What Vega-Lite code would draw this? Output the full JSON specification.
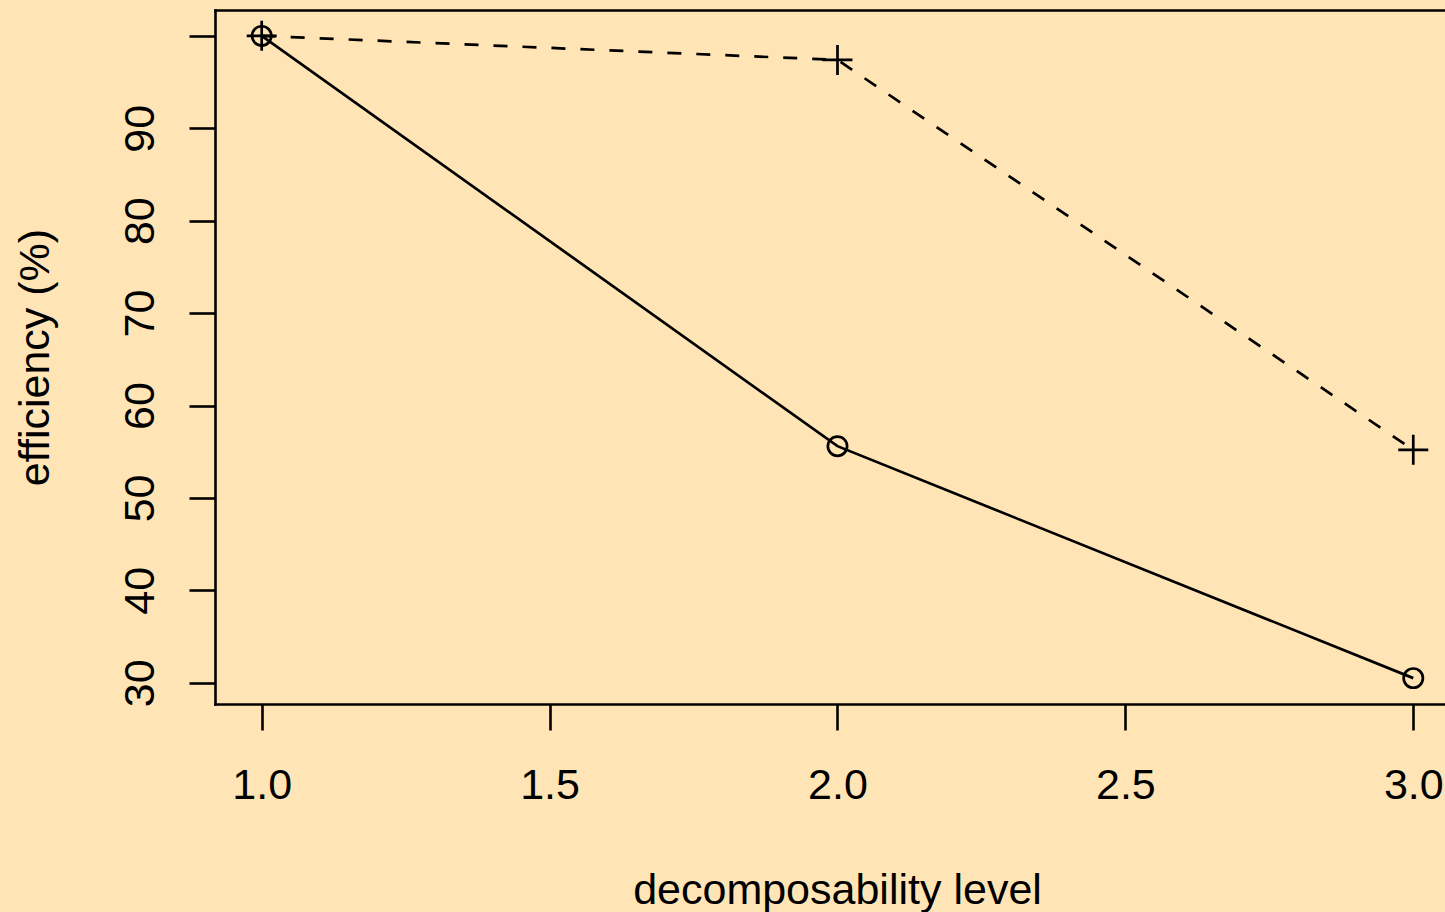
{
  "$schema": "https://vega.github.io/schema/vega-lite/v6.json",
  "autosize": {"type": "none"},
  "padding": {"left": 215, "top": 10, "right": 0, "bottom": 208},
  "width": 1230,
  "height": 694,
  "background": "#FFE4B5",
  "config": {
    "view": {"stroke": null},
    "font": "Liberation Sans",
    "axis": {
      "grid": false,
      "domainColor": "black",
      "domainWidth": 2.6,
      "domainCap": "square",
      "tickColor": "black",
      "tickWidth": 2.6,
      "tickSize": 26,
      "labelColor": "black",
      "labelFont": "Liberation Sans",
      "labelFontSize": 43,
      "titleFont": "Liberation Sans",
      "titleFontSize": 43,
      "titleFontWeight": "normal",
      "titleColor": "black",
      "labelFlush": false,
      "labelOverlap": false
    }
  },
  "data": {
    "values": [
      {"level": 1, "efficiency": 100, "series": "A"},
      {"level": 2, "efficiency": 55.6, "series": "A"},
      {"level": 3, "efficiency": 30.5, "series": "A"},
      {"level": 1, "efficiency": 100, "series": "B"},
      {"level": 2, "efficiency": 97.4, "series": "B"},
      {"level": 3, "efficiency": 55.2, "series": "B"}
    ]
  },
  "resolve": {"axis": {"x": "independent"}},
  "layer": [
    {
      "transform": [{"filter": "datum.series == 'A'"}],
      "mark": {"type": "line", "color": "black", "strokeWidth": 2.7},
      "encoding": {
        "x": {
          "field": "level", "type": "quantitative",
          "scale": {"domain": [0.9189, 3.0551], "nice": false, "zero": false},
          "axis": {
            "orient": "bottom",
            "values": [1, 1.5, 2, 2.5, 3],
            "format": ".1f",
            "labelPadding": 68,
            "labelBaseline": "alphabetic",
            "labelAlign": "center",
            "title": "decomposability level",
            "titleX": 622,
            "titleY": 199,
            "titleBaseline": "alphabetic",
            "titleAlign": "center"
          }
        },
        "y": {
          "field": "efficiency", "type": "quantitative",
          "scale": {"domain": [27.7, 102.8], "nice": false, "zero": false},
          "axis": {
            "values": [30, 40, 50, 60, 70, 80, 90, 100],
            "labelExpr": "datum.value == 100 ? '' : datum.label",
            "labelAngle": 270,
            "labelAlign": "center",
            "labelBaseline": "alphabetic",
            "labelPadding": 36,
            "title": "efficiency (%)",
            "titleX": -167,
            "titleY": 347,
            "titleAngle": 270,
            "titleAlign": "center",
            "titleBaseline": "alphabetic"
          }
        }
      }
    },
    {
      "transform": [{"filter": "datum.series == 'B'"}],
      "mark": {"type": "line", "color": "black", "strokeWidth": 2.7, "strokeDash": [14, 15]},
      "encoding": {
        "x": {
          "field": "level", "type": "quantitative",
          "scale": {"domain": [0.9189, 3.0551], "nice": false, "zero": false},
          "axis": {"orient": "top", "ticks": false, "labels": false, "title": null, "domain": true}
        },
        "y": {"field": "efficiency", "type": "quantitative"}
      }
    },
    {
      "transform": [{"filter": "datum.series == 'A'"}],
      "mark": {"type": "point", "shape": "circle", "filled": false, "stroke": "black", "strokeWidth": 2.7, "size": 370, "opacity": 1},
      "encoding": {
        "x": {"field": "level", "type": "quantitative", "axis": null},
        "y": {"field": "efficiency", "type": "quantitative"}
      }
    },
    {
      "transform": [{"filter": "datum.series == 'B'"}],
      "mark": {"type": "point", "shape": "M-1,0L1,0M0,-1L0,1", "filled": false, "stroke": "black", "strokeWidth": 2.7, "size": 900, "opacity": 1},
      "encoding": {
        "x": {"field": "level", "type": "quantitative", "axis": null},
        "y": {"field": "efficiency", "type": "quantitative"}
      }
    }
  ]
}
